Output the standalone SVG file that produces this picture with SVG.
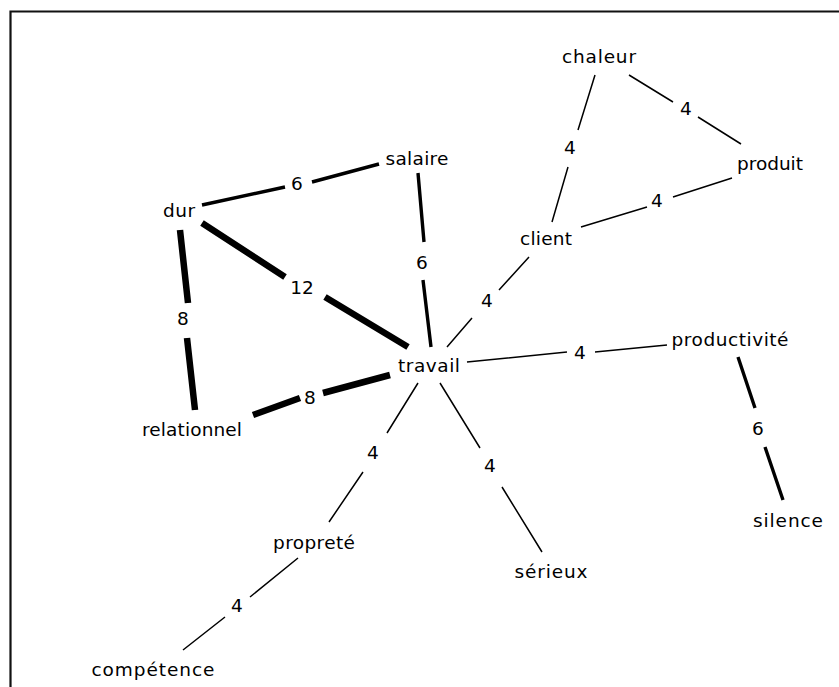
<svg xmlns="http://www.w3.org/2000/svg" width="839" height="687" viewBox="0 0 839 687">
<style>
text{font-family:"DejaVu Sans","Liberation Sans",Arial,sans-serif;font-size:18.5px;fill:#000;text-anchor:middle}
.e{fill:none;stroke:#000;stroke-linecap:butt}
.w1{stroke-width:1.5}
.w3{stroke-width:3.4}
.w6{stroke-width:6.5}
</style>
<rect width="839" height="687" fill="#fff"/>
<path d="M10.5 687V11.5H839" fill="none" stroke="#111" stroke-width="2.2"/>
<g id="connectors">
<path class="e w6" d="M202 223L285 277M325 297L408 347"/>
<path class="e w6" d="M180 230L188 303M187 338L195 410"/>
<path class="e w6" d="M253 415L300 398M323 393L390 375"/>
<path class="e w3" d="M202 205L285 187M312 182L379 164"/>
<path class="e w3" d="M418 173L424 242M423 280L431 347"/>
<path class="e w3" d="M738 357L755 408M765 447L783 500"/>
<path class="e w1" d="M595 75L578 130M568 167L552 222"/>
<path class="e w1" d="M629 75L673 102M698 117L741 144"/>
<path class="e w1" d="M581 227L647 207M673 197L732 178"/>
<path class="e w1" d="M529 257L499 290M472 318L447 347"/>
<path class="e w1" d="M467 362L567 352M595 352L667 345"/>
<path class="e w1" d="M440 383L480 448M502 487L542 552"/>
<path class="e w1" d="M418 383L387 433M363 472L329 522"/>
<path class="e w1" d="M298 558L250 597M225 617L183 650"/>
<text x="297" y="190">6</text>
<text x="422" y="269">6</text>
<text x="302" y="294">12</text>
<text x="183" y="325">8</text>
<text x="487" y="307">4</text>
<text x="580" y="359">4</text>
<text x="310" y="404">8</text>
<text x="758" y="435">6</text>
<text x="373" y="459">4</text>
<text x="490" y="472">4</text>
<text x="237" y="612">4</text>
<text x="570" y="154">4</text>
<text x="686" y="115">4</text>
<text x="657" y="207">4</text>
</g>
<g id="chaleur"><text x="599" y="63" textLength="74" lengthAdjust="spacing">chaleur</text></g>
<g id="produit"><text x="770" y="170" textLength="66" lengthAdjust="spacing">produit</text></g>
<g id="client"><text x="546" y="245" textLength="52" lengthAdjust="spacing">client</text></g>
<g id="salaire"><text x="417" y="165" textLength="63" lengthAdjust="spacing">salaire</text></g>
<g id="dur"><text x="179" y="217" textLength="32" lengthAdjust="spacing">dur</text></g>
<g id="travail"><text x="429" y="372" textLength="62" lengthAdjust="spacing">travail</text></g>
<g id="productivite"><text x="730" y="346" textLength="117" lengthAdjust="spacing">productivité</text></g>
<g id="relationnel"><text x="192" y="436" textLength="100" lengthAdjust="spacing">relationnel</text></g>
<g id="silence"><text x="788" y="527" textLength="70" lengthAdjust="spacing">silence</text></g>
<g id="proprete"><text x="314" y="549" textLength="82" lengthAdjust="spacing">propreté</text></g>
<g id="serieux"><text x="551" y="578" textLength="73" lengthAdjust="spacing">sérieux</text></g>
<g id="competence"><text x="153" y="676" textLength="123" lengthAdjust="spacing">compétence</text></g>
</svg>
